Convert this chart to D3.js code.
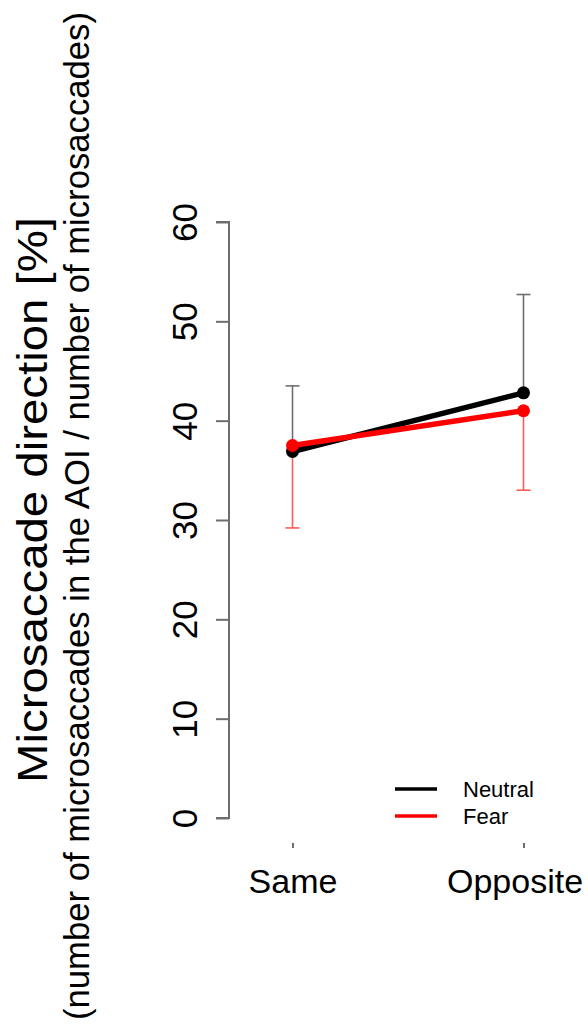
<!DOCTYPE html>
<html><head><meta charset="utf-8">
<script src="https://cdn.jsdelivr.net/npm/d3@7"></script>
<style>body{margin:0;background:#fff}svg{display:block}text{font-family:"Liberation Sans",Arial,sans-serif}</style>
</head><body>
<script>
const categories = ["Same", "Opposite"];
const neutralMean = [36.9, 42.8];
const fearMean = [37.5, 41.0];
const neutralUpper = [43.5, 52.7];
const fearLower = [29.2, 33.0];
const yTicks = [0, 10, 20, 30, 40, 50, 60];
const legendLabels = ["Neutral", "Fear"];

const W = 588, H = 1029;
const svg = d3.select("body").append("svg").attr("width", W).attr("height", H);

const x = d3.scalePoint().domain(categories).range([292.5, 523.5]);
const y = d3.scaleLinear().domain([0, 60]).range([818, 222]);
const axisGrey = "#6e6e6e";

// y axis
const yAxis = svg.append("g").attr("transform", "translate(229,0)")
  .call(d3.axisLeft(y).tickValues(yTicks).tickSize(13).tickPadding(0).tickFormat(d3.format("d")));
yAxis.select(".domain").attr("stroke", axisGrey).attr("stroke-width", 2).attr("d", `M-13,${y(0)}H0V${y(60)}H-13`);
yAxis.selectAll(".tick line").attr("stroke", axisGrey).attr("stroke-width", 2);
yAxis.selectAll(".tick text").remove();
yAxis.selectAll(".tick").append("text")
  .attr("transform", "translate(-32,0) rotate(-90)")
  .attr("text-anchor", "middle").attr("fill", "#000")
  .style("font-size", "35px").text(d => d);

// x axis
const xAxis = svg.append("g").attr("transform", "translate(0,843)")
  .call(d3.axisBottom(x).tickSize(5).tickPadding(0));
xAxis.select(".domain").attr("stroke", axisGrey).attr("stroke-width", 2);
xAxis.selectAll(".tick line").attr("stroke", axisGrey).attr("stroke-width", 2);
xAxis.selectAll(".tick text").attr("y", 50).attr("dy", null).attr("fill", "#000").style("font-size", "34px")
  .attr("dx", d => d === "Opposite" ? -9 : 0);
xAxis.select(".domain").attr("d", `M${x("Same")},848V843H${x("Opposite")}V848`);

// error bars
function errBars(mean, bound, color) {
  const g = svg.append("g");
  categories.forEach((c, i) => {
    g.append("line").attr("x1", x(c)).attr("x2", x(c)).attr("y1", y(mean[i])).attr("y2", y(bound[i]))
      .attr("stroke", color).attr("stroke-width", 1.6);
    g.append("line").attr("x1", x(c) - 7).attr("x2", x(c) + 7).attr("y1", y(bound[i])).attr("y2", y(bound[i]))
      .attr("stroke", color).attr("stroke-width", 1.6);
  });
}
errBars(neutralMean, neutralUpper, "#6e6e6e");
errBars(fearMean, fearLower, "#ff5a5a");

// lines + points
const line = d3.line().x((d, i) => x(categories[i])).y(d => y(d));
function series(vals, color) {
  svg.append("path").datum(vals).attr("d", line).attr("fill", "none").attr("stroke", color).attr("stroke-width", 5.5);
  svg.append("g").selectAll("circle").data(vals).join("circle")
    .attr("cx", (d, i) => x(categories[i])).attr("cy", d => y(d)).attr("r", 6.5).attr("fill", color);
}
series(neutralMean, "#000000");
series(fearMean, "#ff0000");

// legend
const legColors = ["#000000", "#ff0000"];
const leg = svg.append("g");
legendLabels.forEach((l, i) => {
  const ly = 789 + i * 27;
  leg.append("line").attr("x1", 395).attr("x2", 437).attr("y1", ly).attr("y2", ly)
    .attr("stroke", legColors[i]).attr("stroke-width", 3.5);
  leg.append("text").attr("x", 463).attr("y", ly + 8).style("font-size", "22px").attr("fill", "#000").text(l);
});

// titles
svg.append("text").attr("transform", "translate(47,500) rotate(-90)")
  .attr("text-anchor", "middle").style("font-size", "42px")
  .attr("textLength", 566).attr("lengthAdjust", "spacingAndGlyphs")
  .text("Microsaccade direction [%]");
svg.append("text").attr("transform", "translate(89,516) rotate(-90)")
  .attr("text-anchor", "middle").style("font-size", "35px")
  .attr("textLength", 1008).attr("lengthAdjust", "spacingAndGlyphs")
  .text("(number of microsaccades in the AOI / number of microsaccades)");
</script>
</body></html>
